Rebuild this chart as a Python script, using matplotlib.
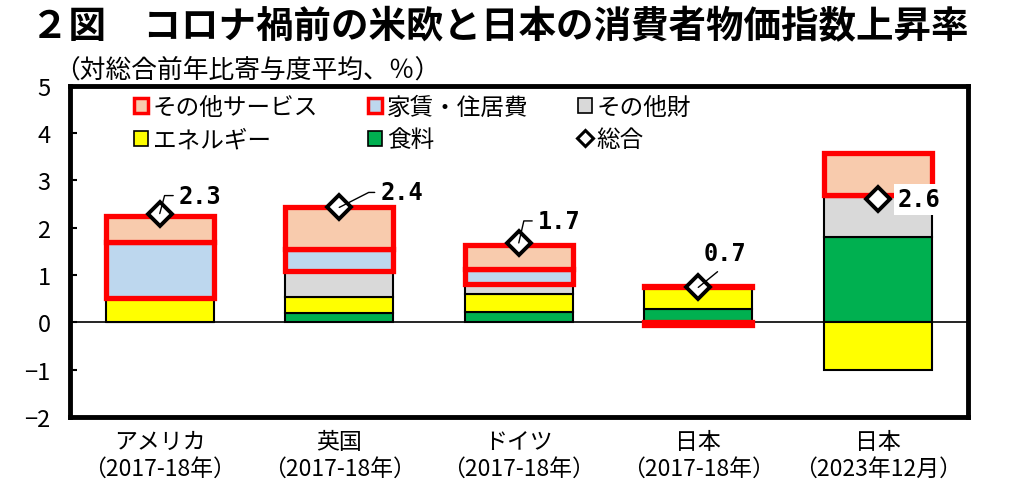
import numpy as np
import matplotlib
matplotlib.use("Agg")
import matplotlib.pyplot as plt
from matplotlib.patches import Patch
from matplotlib.lines import Line2D

plt.rcParams['font.family'] = ['Noto Sans CJK JP', 'DejaVu Sans']

# データ（寄与度、％ポイント）
categories = ['アメリカ\n（2017-18年）', '英国\n（2017-18年）', 'ドイツ\n（2017-18年）',
              '日本\n（2017-18年）', '日本\n（2023年12月）']
food = [0.0, 0.19, 0.21, 0.28, 1.81]
energy = [0.52, 0.35, 0.39, 0.46, -1.00]
other_goods = [0.0, 0.55, 0.22, 0.0, 0.88]
rent = [1.18, 0.46, 0.30, -0.05, 0.0]
other_services = [0.55, 0.88, 0.51, 0.02, 0.90]
total = [2.3, 2.43, 1.68, 0.74, 2.6]

series = [
    ('食料', food, '#00B050', 'black', 1.5),
    ('エネルギー', energy, '#FFFF00', 'black', 1.5),
    ('その他財', other_goods, '#D9D9D9', 'black', 1.5),
    ('家賃・住居費', rent, '#BDD7EE', '#FF0000', 3.8),
    ('その他サービス', other_services, '#F8CBAD', '#FF0000', 3.8),
]

fig = plt.figure(figsize=(10.34, 4.85), dpi=100)
ax = fig.add_axes([0.0677, 0.138, 0.868, 0.683])

x = np.arange(len(categories))
width = 0.6
pos_base = np.zeros(len(x))
neg_base = np.zeros(len(x))
red_bars = []
for name, vals, color, edge, lw in series:
    vals = np.array(vals)
    bottoms = np.where(vals >= 0, pos_base, neg_base)
    if edge == 'black':
        ax.bar(x, vals, width, bottom=bottoms, color=color, edgecolor=edge, linewidth=lw, zorder=2)
    else:
        red_bars.append((vals, bottoms, color, edge, lw))
    pos_base = pos_base + np.where(vals >= 0, vals, 0)
    neg_base = neg_base + np.where(vals < 0, vals, 0)

# 赤枠の系列は上に描く
for vals, bottoms, color, edge, lw in red_bars:
    ax.bar(x, vals, width, bottom=bottoms, color=color, edgecolor=edge, linewidth=lw, zorder=3)

ax.axhline(0, color='black', linewidth=1.2, zorder=1)

ax.plot(x, total, linestyle='none', marker='D', markersize=12, markerfacecolor='white',
        markeredgecolor='black', markeredgewidth=2.8, zorder=5)

# ラベル
label_font = dict(fontsize=17, fontweight='bold', family='DejaVu Sans Mono')
offsets = [(19, 18, 75), (41, 15, 27), (19, 22, 77)]
for i, (dx, dy, ang) in enumerate(offsets):
    ax.annotate(f'{total[i]:.1f}', xy=(x[i], total[i]), xytext=(dx, dy), textcoords='offset pixels',
                ha='left', va='center', zorder=6,
                arrowprops=dict(arrowstyle='-', color='black', lw=1,
                                connectionstyle=f'angle,angleA=0,angleB={ang},rad=0',
                                relpos=(0, 0.5), shrinkA=2, shrinkB=0),
                **label_font)
ax.annotate(f'{total[3]:.1f}', xy=(x[3], total[3]), xytext=(27, 34), textcoords='offset pixels',
            ha='center', va='center', zorder=6,
            arrowprops=dict(arrowstyle='-', color='black', lw=1, relpos=(0.5, 0),
                            shrinkA=4, shrinkB=0),
            **label_font)
ax.annotate(f'{total[4]:.1f}', xy=(x[4], total[4]), xytext=(20, 0), textcoords='offset pixels',
            ha='left', va='center', zorder=6,
            bbox=dict(boxstyle='square,pad=0.15', facecolor='white', edgecolor='none'),
            **label_font)

ax.set_xlim(-0.5, len(x) - 0.5)
ax.set_ylim(-2, 5)
ax.set_yticks(range(-2, 6))
ax.set_xticks(x)
ax.set_xticklabels(categories, fontsize=16.5, linespacing=1.25)
ax.tick_params(axis='x', length=0, pad=9)
ax.tick_params(axis='y', direction='in', length=5, width=1.5, labelsize=17, pad=14)
for s in ax.spines.values():
    s.set_linewidth(3.5)

handles = [
    Patch(facecolor='#F8CBAD', edgecolor='#FF0000', linewidth=2.5, label='その他サービス'),
    Patch(facecolor='#FFFF00', edgecolor='black', linewidth=1.2, label='エネルギー'),
    Patch(facecolor='#BDD7EE', edgecolor='#FF0000', linewidth=2.5, label='家賃・住居費'),
    Patch(facecolor='#00B050', edgecolor='black', linewidth=1.2, label='食料'),
    Patch(facecolor='#D9D9D9', edgecolor='black', linewidth=1.2, label='その他財'),
    Line2D([], [], linestyle='none', marker='D', markersize=8, markerfacecolor='white',
           markeredgecolor='black', markeredgewidth=2.2, label='総合'),
]
ax.legend(handles=handles, ncol=3, loc='upper left', bbox_to_anchor=(0.058, 1.005), frameon=False,
          fontsize=17, handlelength=0.6, handleheight=0.6, handletextpad=0.2,
          columnspacing=2.1, labelspacing=0.4, borderaxespad=0.1)

fig.text(0.03, 0.945, '２図　コロナ禍前の米欧と日本の消費者物価指数上昇率', fontsize=27,
         fontweight='bold', va='center')
fig.text(0.052, 0.855, '（対総合前年比寄与度平均、％）', fontsize=18.5, va='center')

fig.savefig('out.png', dpi=100)
